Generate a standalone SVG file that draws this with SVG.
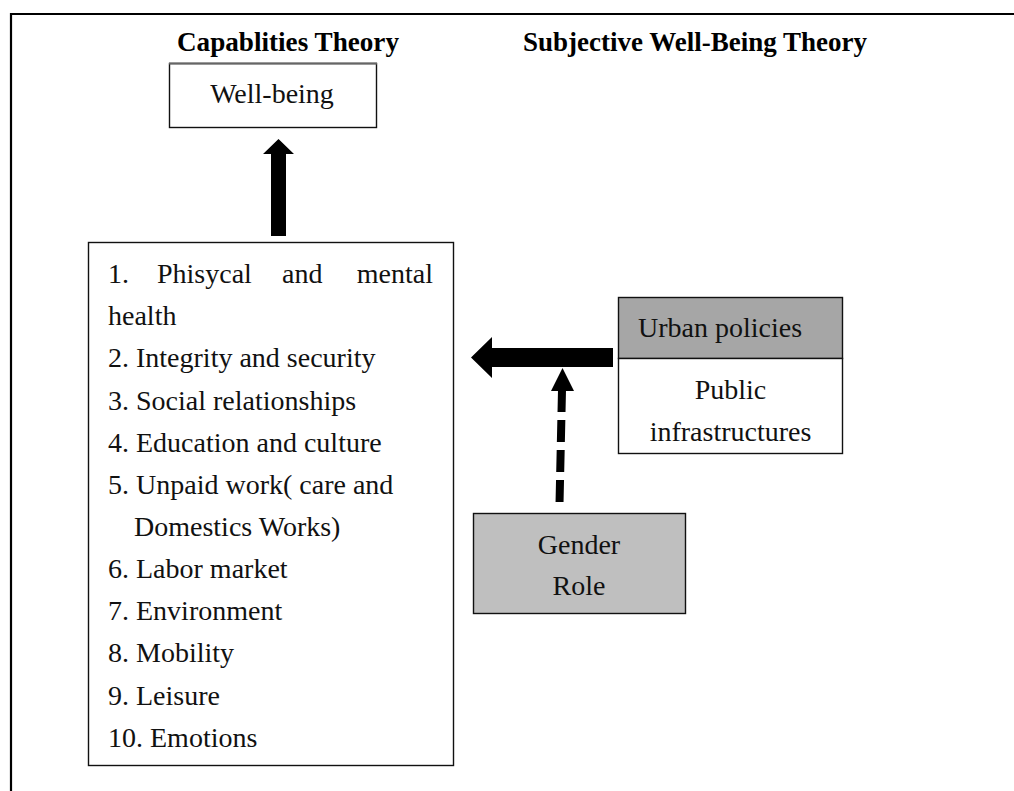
<svg xmlns="http://www.w3.org/2000/svg" width="1014" height="791" viewBox="0 0 1014 791">
<style>
.t{font-family:"Liberation Serif","Times New Roman",serif;font-size:28px;fill:#111}
.h{font-family:"Liberation Serif","Times New Roman",serif;font-size:27px;font-weight:bold;fill:#000}
.box{stroke:#111;stroke-width:1.4}
</style>
<rect width="1014" height="791" fill="#fff"/>
<path d="M11 791 V14 H1014" fill="none" stroke="#000" stroke-width="2.2"/>
<text class="h" x="177" y="51" textLength="222" lengthAdjust="spacingAndGlyphs">Capablities Theory</text>
<text class="h" x="523" y="51">Subjective Well-Being Theory</text>
<g id="wellbeing">
<rect class="box" x="169.5" y="63.5" width="207" height="64" fill="#fff"/>
<line x1="169" y1="63.5" x2="377" y2="63.5" stroke="#666" stroke-width="2"/>
<text class="t" x="272" y="103" text-anchor="middle">Well-being</text>
</g>
<g id="capabilities">
<rect class="box" x="88.5" y="242.5" width="365" height="523" fill="#fff"/>
<text class="t" x="108" y="283">1.</text>
<text class="t" x="157" y="283">Phisycal</text>
<text class="t" x="282" y="283">and</text>
<text class="t" x="433" y="283" text-anchor="end">mental</text>
<text class="t" x="108" y="325">health</text>
<text class="t" x="108" y="367">2. Integrity and security</text>
<text class="t" x="108" y="410">3. Social relationships</text>
<text class="t" x="108" y="452">4. Education and culture</text>
<text class="t" x="108" y="494">5. Unpaid work( care and</text>
<text class="t" x="134" y="536">Domestics Works)</text>
<text class="t" x="108" y="578">6. Labor market</text>
<text class="t" x="108" y="620">7. Environment</text>
<text class="t" x="108" y="662">8. Mobility</text>
<text class="t" x="108" y="705">9. Leisure</text>
<text class="t" x="108" y="747">10. Emotions</text>
</g>
<g id="urban">
<rect x="618.5" y="297.5" width="224" height="61" fill="#a6a6a6" class="box"/>
<rect x="618.5" y="358.5" width="224" height="95" fill="#fff" class="box"/>
<text class="t" x="638" y="337">Urban policies</text>
<text class="t" x="730.5" y="399" text-anchor="middle">Public</text>
<text class="t" x="730.5" y="441" text-anchor="middle">infrastructures</text>
</g>
<g id="gender">
<rect class="box" x="473.5" y="513.5" width="212" height="100" fill="#bfbfbf"/>
<text class="t" x="579" y="554" text-anchor="middle">Gender</text>
<text class="t" x="579" y="595" text-anchor="middle">Role</text>
</g>
<g id="connectors">
<polygon points="271,236 271,154 263,154 278.5,139 294,154 286,154 286,236" fill="#000"/>
<polygon points="613,348 492,348 492,337 471,357.5 492,378 492,367 613,367" fill="#000"/>
<polygon points="551,391 562.5,368 574,391" fill="#000"/>
<line x1="562" y1="390" x2="559.5" y2="504" stroke="#000" stroke-width="8" stroke-dasharray="22 8"/>
</g>
</svg>
